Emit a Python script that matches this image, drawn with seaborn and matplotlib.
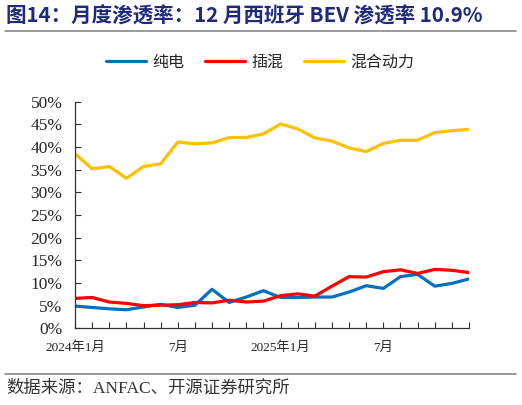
import numpy as np
import pandas as pd
import matplotlib
matplotlib.use("Agg")
import matplotlib.pyplot as plt
import seaborn as sns

# ---------------- data ----------------
months = [f"2024-{m:02d}" for m in range(1, 13)] + [f"2025-{m:02d}" for m in range(1, 13)]
tick_labels = ["2024年1月", "7月", "2025年1月", "7月"]
tick_pos = [0, 6, 12, 18]

bev = [4.9, 4.6, 4.3, 4.1, 4.7, 5.3, 4.6, 5.1, 8.6, 5.7, 6.9, 8.3,
       6.8, 6.8, 6.9, 6.9, 8.0, 9.4, 8.8, 11.4, 11.9, 9.3, 9.9, 10.9]
phev = [6.6, 6.8, 5.8, 5.5, 5.0, 5.1, 5.2, 5.7, 5.6, 6.2, 5.8, 6.0,
        7.2, 7.6, 7.1, 9.3, 11.4, 11.3, 12.5, 12.9, 12.1, 13.0, 12.8, 12.3]
hev = [38.5, 35.2, 35.7, 33.1, 35.7, 36.3, 41.1, 40.7, 40.9, 42.1, 42.1, 42.9,
       45.1, 44.0, 42.0, 41.3, 39.8, 39.0, 40.8, 41.5, 41.5, 43.2, 43.6, 43.9]
series_names = ["纯电", "插混", "混合动力"]
colors = ["#0070C0", "#FF0000", "#FFC000"]

df = pd.DataFrame({
    "idx": list(range(len(months))) * 3,
    "value": bev + phev + hev,
    "series": [s for s in series_names for _ in months],
})

# ---------------- style ----------------
sns.set_style("ticks")
plt.rcParams["font.family"] = ["Liberation Serif", "Noto Sans CJK SC", "DejaVu Sans"]
cjk = ["Noto Sans CJK SC", "DejaVu Sans"]
mixed = ["Liberation Serif", "Noto Sans CJK SC"]

fig = plt.figure(figsize=(5.22, 4.05), dpi=100)
ax = fig.add_axes([75 / 522, 1 - 328.3 / 405, (469 - 75) / 522, (328.3 - 101.7) / 405])

sns.lineplot(data=df, x="idx", y="value", hue="series", hue_order=series_names,
             palette=colors, linewidth=2.3, ax=ax, legend=False)

ax.set_xlim(0, len(months) - 1)
ax.set_ylim(0, 50)
ax.set_yticks(np.arange(0, 51, 5))
ax.set_yticklabels([f"{v}%" for v in range(0, 51, 5)], fontsize=12.5)
ax.set_xticks(range(len(months)))
ax.set_xticklabels(["" for _ in months])
for p, lab in zip(tick_pos, tick_labels):
    ax.text(p, -2.9, lab, ha="center", va="top", fontsize=9.5, family=mixed)
ax.set_xlabel("")
ax.set_ylabel("")
ax.tick_params(axis="both", direction="in", length=4, width=0.8, color="#333333")
ax.tick_params(axis="y", pad=9)
for s in ["top", "right"]:
    ax.spines[s].set_visible(False)
for s in ["left", "bottom"]:
    ax.spines[s].set_color("#333333")
    ax.spines[s].set_linewidth(0.9)

# legend
handles = [plt.Line2D([0], [0], color=c, lw=2.3) for c in colors]
fig.legend(handles, series_names, loc="center", bbox_to_anchor=(260 / 522, 1 - 62 / 405),
           ncol=3, frameon=False, prop={"family": cjk, "size": 11.5},
           handlelength=2.5, columnspacing=1.3, handletextpad=0.4)

# title and source
fig.text(6 / 522, 1 - 16 / 405, "图14：月度渗透率：12 月西班牙 BEV 渗透率 10.9%",
         ha="left", va="center", fontsize=14.8, fontweight="bold", color="#1F2A7A",
         family=cjk)
fig.add_artist(plt.Line2D([5 / 522, 516 / 522], [1 - 31 / 405] * 2, color="#888888", lw=1.2))
fig.add_artist(plt.Line2D([5 / 522, 516 / 522], [1 - 374 / 405] * 2, color="#888888", lw=1.2))
fig.text(6 / 522, 1 - 389 / 405, "数据来源：ANFAC、开源证券研究所", ha="left", va="center",
         fontsize=12.5, color="#333333", family=mixed)

fig.savefig("out.png", dpi=100)
